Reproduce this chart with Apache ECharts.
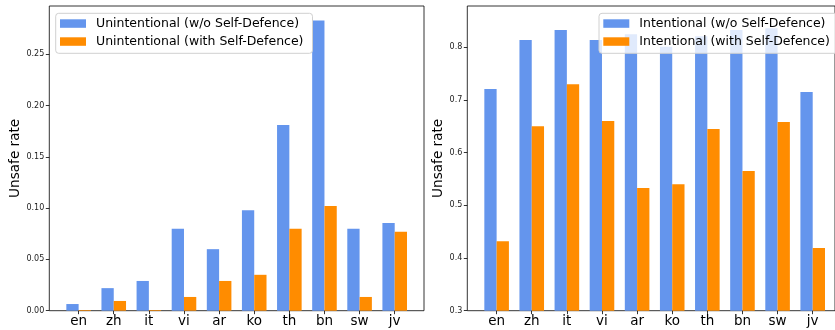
<!DOCTYPE html>
<html>
<head>
<meta charset="utf-8">
<script src="https://cdn.jsdelivr.net/npm/echarts@6/dist/echarts.min.js"></script>
<style>
html,body{margin:0;padding:0;background:#fff;}
#chart{width:835px;height:330px;}
</style>
</head>
<body>
<div id="chart"></div>
<script>
const categories = ['en','zh','it','vi','ar','ko','th','bn','sw','jv'];
const unintentionalNoDefence = [0.0065, 0.022, 0.029, 0.080, 0.060, 0.098, 0.181, 0.283, 0.080, 0.0855];
const unintentionalDefence = [0.0007, 0.0095, 0.0007, 0.0134, 0.029, 0.035, 0.080, 0.102, 0.0134, 0.077];
const intentionalNoDefence = [0.721, 0.814, 0.833, 0.814, 0.825, 0.801, 0.821, 0.833, 0.836, 0.715];
const intentionalDefence = [0.432, 0.650, 0.730, 0.660, 0.533, 0.540, 0.645, 0.565, 0.658, 0.419];
const leftTicks = [0, 0.05, 0.10, 0.15, 0.20, 0.25];
const rightTicks = [0.3, 0.4, 0.5, 0.6, 0.7, 0.8];
const names = ['Unintentional (w/o Self-Defence)','Unintentional (with Self-Defence)','Intentional (w/o Self-Defence)','Intentional (with Self-Defence)'];

const BLUE = '#6495ED', ORANGE = '#FF8C00';
const FONT = 'DejaVu Sans';
const TOP = 6, BOTTOM = 19.3, H = 304.7;
const FRAME_W = 374.7, BAND = 35.12;
const INSET = (0.835 - 0.5) * BAND;
const LFRAME = 49.3, RFRAME = 467.3;

function xAxisFor(grid){
  return {
    gridIndex: grid, type: 'category', data: categories,
    axisLine: {show: false},
    axisTick: {show: true, alignWithLabel: true, length: 3.5, lineStyle: {color: '#000', width: 0.8}},
    axisLabel: {fontFamily: FONT, fontSize: 13.5, color: '#000', margin: 4, interval: 0},
    splitLine: {show: false}
  };
}
function yAxisFor(grid, min, max, ticks, dec, gap){
  return {
    gridIndex: grid, type: 'value', min: min, max: max, offset: INSET,
    axisLine: {show: false},
    axisTick: {show: true, length: 3.5, customValues: ticks, lineStyle: {color: '#000', width: 0.8}},
    axisLabel: {customValues: ticks, fontFamily: FONT, fontSize: 8, color: '#222', margin: 5,
      formatter: v => v.toFixed(dec)},
    splitLine: {show: false},
    name: 'Unsafe rate', nameLocation: 'middle', nameGap: gap,
    nameTextStyle: {fontFamily: FONT, fontSize: 13.6, color: '#000'}
  };
}
function legendFor(left, data){
  return {
    data: data, left: left, top: 13.3, orient: 'vertical', icon: 'rect',
    itemWidth: 26, itemHeight: 8.5, itemGap: 4.5,
    padding: [3.5, 9, 5, 4.3],
    backgroundColor: 'rgba(255,255,255,0.8)', borderColor: '#d0d0d0', borderWidth: 1, borderRadius: 3,
    textStyle: {fontFamily: FONT, fontSize: 12.5, color: '#000', lineHeight: 13.5, padding: [0,0,0,5]},
    selectedMode: false
  };
}
function barSeries(name, data, idx, color){
  return {
    name: name, type: 'bar', data: data, xAxisIndex: idx, yAxisIndex: idx,
    barWidth: '35%', barGap: '0%', itemStyle: {color: color}, animation: false
  };
}

const chart = echarts.init(document.getElementById('chart'), null, {renderer: 'canvas'});
chart.setOption({
  animation: false,
  backgroundColor: '#fff',
  grid: [
    {left: LFRAME, top: TOP, width: FRAME_W, height: H, show: true, borderColor: '#000', borderWidth: 0.8, backgroundColor: 'transparent'},
    {left: LFRAME + INSET, top: TOP, width: BAND * 10, height: H},
    {left: RFRAME, top: TOP, width: FRAME_W + 1, height: H, show: true, borderColor: '#000', borderWidth: 0.8, backgroundColor: 'transparent'},
    {left: RFRAME + INSET, top: TOP, width: BAND * 10, height: H}
  ],
  xAxis: [xAxisFor(1), xAxisFor(3)],
  yAxis: [yAxisFor(1, 0, 0.2971, leftTicks, 2, 26), yAxisFor(3, 0.3, 0.8784, rightTicks, 1, 21.3)],
  legend: [legendFor(55.7, [names[0], names[1]]), legendFor(599, [names[2], names[3]])],
  series: [
    barSeries(names[0], unintentionalNoDefence, 0, BLUE),
    barSeries(names[1], unintentionalDefence, 0, ORANGE),
    barSeries(names[2], intentionalNoDefence, 1, BLUE),
    barSeries(names[3], intentionalDefence, 1, ORANGE)
  ]
});
</script>
</body>
</html>
